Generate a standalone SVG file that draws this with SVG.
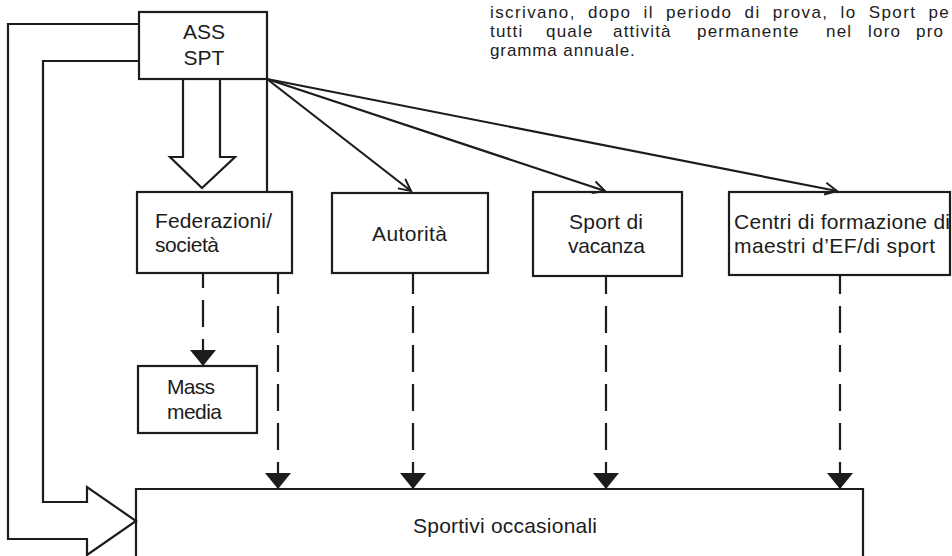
<svg xmlns="http://www.w3.org/2000/svg" width="952" height="556" viewBox="0 0 952 556">
<style>
.bx{fill:none;stroke:#1c1c1c;stroke-width:2.2}
.ln{fill:none;stroke:#1c1c1c;stroke-width:2.2;stroke-linejoin:miter}
.ds{fill:none;stroke:#1c1c1c;stroke-width:2.2;stroke-dasharray:27 12}
.t{font-family:"Liberation Sans",Arial,Helvetica,sans-serif;font-size:21px;fill:#1c1c1c}
.p{font-family:"Liberation Sans",Arial,Helvetica,sans-serif;font-size:17px;letter-spacing:1.2px;fill:#1c1c1c}
</style>
<defs>
<marker id="tri" viewBox="-1 -14 18 28" refX="16" refY="0" markerWidth="18" markerHeight="28" markerUnits="userSpaceOnUse" orient="auto-start-reverse">
<path d="M0,-13 L16,0 L0,13 Z" fill="#1c1c1c"/>
</marker>
<marker id="vee" viewBox="-2 -8 16 16" refX="12" refY="0" markerWidth="16" markerHeight="16" markerUnits="userSpaceOnUse" orient="auto">
<path d="M0,-6 L12,0 L0,6" fill="none" stroke="#1c1c1c" stroke-width="2"/>
</marker>
</defs>
<rect width="952" height="556" fill="#ffffff"/>

<g id="paragraph">
<text class="p" x="490" y="18" textLength="460" lengthAdjust="spacing" word-spacing="6">iscrivano, dopo il periodo di prova, lo Sport pe</text>
<text class="p" y="37"><tspan x="490">tutti</tspan><tspan x="546">quale</tspan><tspan x="613">attività</tspan><tspan x="697">permanente</tspan><tspan x="826">nel</tspan><tspan x="868">loro</tspan><tspan x="916">pro</tspan></text>
<text class="p" x="490" y="56" textLength="146" lengthAdjust="spacing">gramma annuale.</text>
</g>

<g id="connectors">
<path class="ln" d="M139,24 H8 V539 H87 V555 L136,521 L87,487 V502 H43 V61 H139"/>
<path class="ln" d="M183,79 V157 H170 L202,188 L235,157 H220 V79"/>
<path class="ln" d="M267,79 V192"/>
<path class="ln" d="M267,79 L411,191" marker-end="url(#vee)"/>
<path class="ln" d="M267,79 L605,191" marker-end="url(#vee)"/>
<path class="ln" d="M267,79 L837,191" marker-end="url(#vee)"/>
<path class="ds" d="M203,366 V273" marker-start="url(#tri)"/>
<path class="ds" d="M278,489 V273" marker-start="url(#tri)"/>
<path class="ds" d="M413,489 V273" marker-start="url(#tri)"/>
<path class="ds" d="M606,489 V276" marker-start="url(#tri)"/>
<path class="ds" d="M840,489 V275" marker-start="url(#tri)"/>
</g>

<g id="ass-spt">
<rect class="bx" x="139" y="12" width="128" height="67"/>
<text class="t" x="204" y="39" text-anchor="middle">ASS</text>
<text class="t" x="204" y="65" text-anchor="middle">SPT</text>
</g>

<g id="federazioni">
<rect class="bx" x="137" y="192" width="155" height="81"/>
<text class="t" x="155" y="228" textLength="117" lengthAdjust="spacing">Federazioni/</text>
<text class="t" x="155" y="252" textLength="64" lengthAdjust="spacing">società</text>
</g>

<g id="autorita">
<rect class="bx" x="332" y="193" width="156" height="80"/>
<text class="t" x="372" y="241" textLength="75" lengthAdjust="spacing">Autorità</text>
</g>

<g id="sport-vacanza">
<rect class="bx" x="533" y="192" width="149" height="84"/>
<text class="t" x="569" y="229" textLength="74" lengthAdjust="spacing">Sport di</text>
<text class="t" x="568" y="253" textLength="77" lengthAdjust="spacing">vacanza</text>
</g>

<g id="centri">
<rect class="bx" x="729" y="192" width="221" height="83"/>
<text class="t" x="734" y="229" textLength="216" lengthAdjust="spacing">Centri di formazione di</text>
<text class="t" x="734" y="253" textLength="201" lengthAdjust="spacing">maestri d’EF/di sport</text>
</g>

<g id="mass-media">
<rect class="bx" x="138" y="366" width="119" height="67"/>
<text class="t" x="167" y="394" textLength="48" lengthAdjust="spacing">Mass</text>
<text class="t" x="167" y="419" textLength="55" lengthAdjust="spacing">media</text>
</g>

<g id="sportivi">
<path class="bx" d="M136,557 V489 H863 V557"/>
<text class="t" x="413" y="533" textLength="184" lengthAdjust="spacing">Sportivi occasionali</text>
</g>
</svg>
